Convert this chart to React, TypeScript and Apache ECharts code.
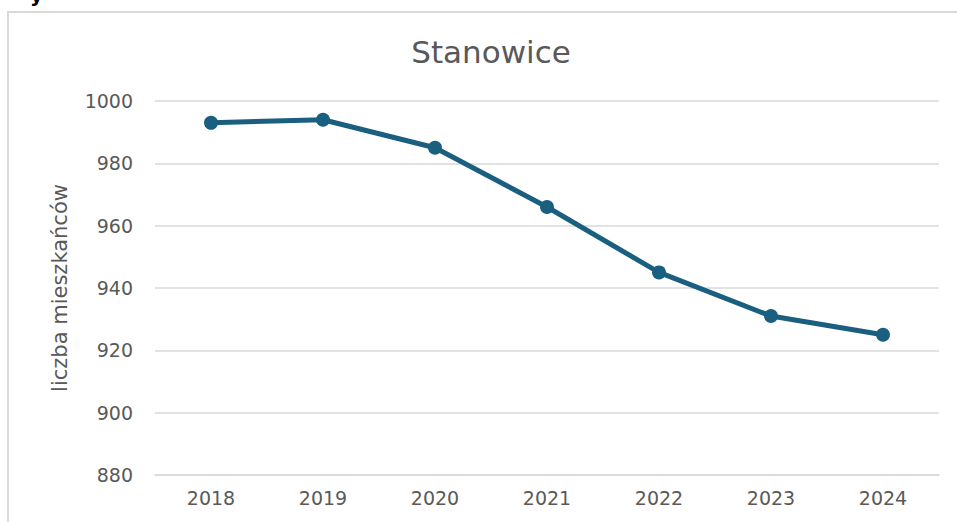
import React, { useEffect, useRef } from "react";
import * as echarts from "echarts";

const years = ["2018", "2019", "2020", "2021", "2022", "2023", "2024"];
const residents = [993, 994, 985, 966, 945, 931, 925];
const chartTitle = "Stanowice";
const yAxisName = "liczba mieszkańców";

const FONT = "DejaVu Sans";
const GRAY = "#595959";
const LINE = "#d9d9d9";
const BLUE = "#1a5f7f";

export default function App() {
  const ref = useRef<HTMLDivElement>(null);
  useEffect(() => {
    if (!ref.current) return;
    const chart = echarts.init(ref.current, null, { renderer: "svg" });
    chart.setOption({
      animation: false,
      backgroundColor: "#ffffff",
      title: {
        text: chartTitle,
        left: 486,
        textAlign: "center",
        top: 31,
        textStyle: { fontFamily: FONT, fontSize: 31, fontWeight: "normal", color: GRAY },
      },
      graphic: [
        {
          type: "rect",
          shape: { x: 8, y: 12, width: 1000, height: 600 },
          style: { fill: "none", stroke: LINE, lineWidth: 2 },
          silent: true,
        },
        {
          type: "text",
          x: 30,
          y: -15,
          style: { text: "y", font: "bold 20px DejaVu Sans", fill: "#000" },
          silent: true,
        },
      ],
      grid: { left: 155, right: 18, top: 101, bottom: 47 },
      xAxis: {
        type: "category",
        data: years,
        boundaryGap: true,
        axisLine: { show: true, lineStyle: { color: LINE, width: 1.5 } },
        axisTick: { show: false },
        axisLabel: { fontFamily: FONT, fontSize: 19, color: GRAY, margin: 13 },
      },
      yAxis: {
        type: "value",
        min: 880,
        max: 1000,
        interval: 20,
        name: yAxisName,
        nameLocation: "middle",
        nameGap: 85,
        nameTextStyle: { fontFamily: FONT, fontSize: 21, color: GRAY },
        axisLine: { show: false },
        axisTick: { show: false },
        splitLine: { lineStyle: { color: LINE, width: 1.5 } },
        axisLabel: {
          fontFamily: FONT,
          fontSize: 19,
          color: GRAY,
          margin: 22,
          formatter: (v: number) => String(v),
        },
      },
      series: [
        {
          type: "line",
          data: residents,
          symbol: "circle",
          symbolSize: 14,
          lineStyle: { color: BLUE, width: 5 },
          itemStyle: { color: BLUE },
        },
      ],
    });
    return () => chart.dispose();
  }, []);
  return (
    <div
      ref={ref}
      style={{ position: "fixed", left: 0, top: 0, width: 957, height: 522 }}
    />
  );
}
